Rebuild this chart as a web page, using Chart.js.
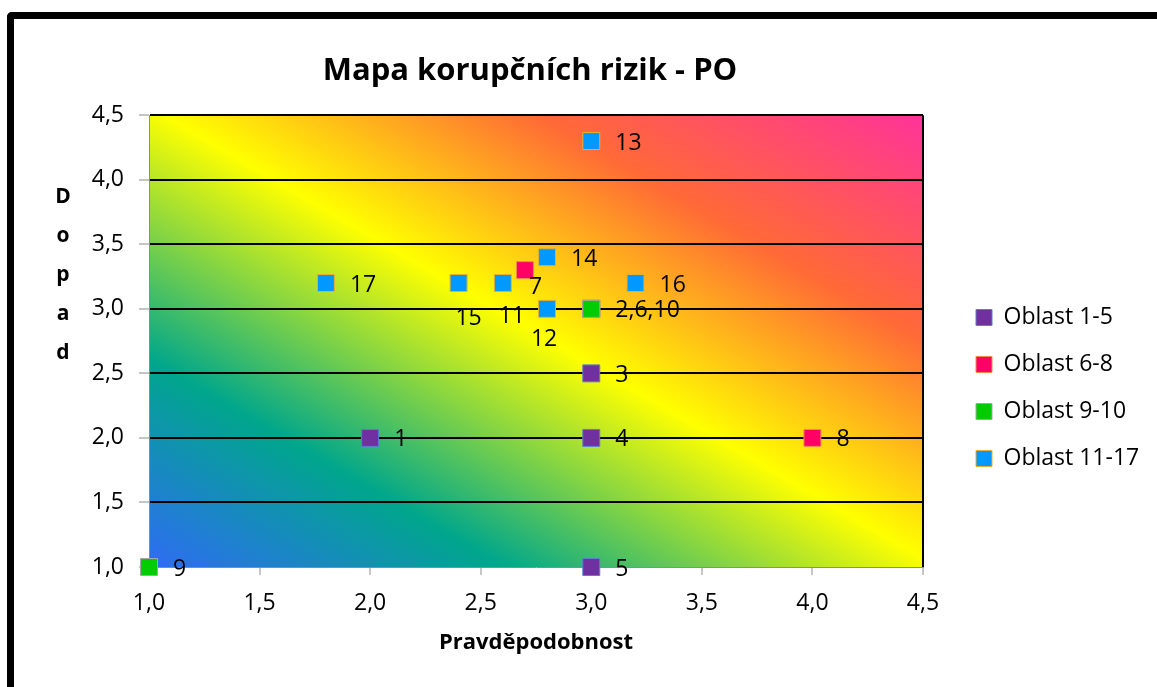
<!DOCTYPE html>
<html>
<head>
<meta charset="utf-8">
<script src="https://cdn.jsdelivr.net/npm/chart.js@4.4.1/dist/chart.umd.min.js"></script>
<style>
  html, body { margin: 0; padding: 0; background: #fff; overflow: hidden; }
  #frame { position: absolute; left: 7px; top: 12px; width: 1300px; height: 800px;
           border-top: 7px solid #000; border-left: 7px solid #000; border-top-left-radius: 5px; }
  #wrap { position: absolute; left: 0; top: 0; width: 1157px; height: 687px; }
</style>
</head>
<body>
<div id="frame"></div>
<div id="wrap"><canvas id="riskChart" width="1157" height="687"></canvas></div>
<script>
  const chartTitle = "Mapa korupčních rizik - PO";
  const xTitle = "Pravděpodobnost";
  const yTitle = "Dopad";
  const axisMin = 1.0;
  const axisMax = 4.5;
  const axisStep = 0.5;

  const seriesNames = ["Oblast 1-5", "Oblast 6-8", "Oblast 9-10", "Oblast 11-17"];

  // Oblast 1-5 (bod 2 lezi pod zelenym bodem 3,3)
  const oblast1X = [2.0, 3.0, 3.0, 3.0, 3.0];
  const oblast1Y = [2.0, 3.0, 2.5, 2.0, 1.0];
  const oblast1Labels = ["1", "", "3", "4", "5"];

  // Oblast 6-8 (bod 6 taky pod 3,3)
  const oblast2X = [3.0, 2.7, 4.0];
  const oblast2Y = [3.0, 3.3, 2.0];
  const oblast2Labels = ["", "7", "8"];

  // Oblast 9-10
  const oblast3X = [1.0, 3.0];
  const oblast3Y = [1.0, 3.0];
  const oblast3Labels = ["9", "2,6,10"];

  // Oblast 11-17
  const oblast4X = [2.6, 2.8, 3.0, 2.8, 2.4, 3.2, 1.8];
  const oblast4Y = [3.2, 3.0, 4.3, 3.4, 3.2, 3.2, 3.2];
  const oblast4Labels = ["11", "12", "13", "14", "15", "16", "17"];

  // label placement next to each point: [dx, dy, align]
  const R = [24, 2, "left"];
  const labelPlacement = [
    [R, R, R, R, R],
    [R, [4, 17, "left"], R],
    [R, R],
    [[9, 33, "center"], [-3, 31, "center"], R, R, [10, 35, "center"], R, R]
  ];

  const fill = ["#7030A0", "#FF0066", "#00CC00", "#0099FF"];
  const edge = ["#5B7FD0", "#F58A50", "#A6A6A6", "#E8B030"];
  const FONT = "'Open Sans', 'Liberation Sans', sans-serif";

  const xs = [oblast1X, oblast2X, oblast3X, oblast4X];
  const ys = [oblast1Y, oblast2Y, oblast3Y, oblast4Y];
  const pointLabels = [oblast1Labels, oblast2Labels, oblast3Labels, oblast4Labels];

  const fmt = v => Number(v).toFixed(1).replace(".", ",");

  const datasets = seriesNames.map((name, i) => ({
    label: name,
    data: xs[i].map((x, j) => ({ x: x, y: ys[i][j] })),
    backgroundColor: fill[i],
    borderColor: edge[i],
    borderWidth: 1,
    pointStyle: "rect",
    pointRadius: 12,
    pointHoverRadius: 12,
    clip: false,
    order: 4 - i
  }));

  // background gradient of the plot area
  const gradientBg = {
    id: "gradientBg",
    beforeDraw(chart) {
      const a = chart.chartArea;
      const ctx = chart.ctx;
      const w = a.right - a.left, h = a.bottom - a.top;
      const gx = 1 / (2 * w), gy = -1 / (2 * h);
      const g2 = gx * gx + gy * gy;
      const g = ctx.createLinearGradient(a.left, a.bottom, a.left + gx / g2, a.bottom + gy / g2);
      g.addColorStop(0, "#2F6CF4");
      g.addColorStop(0.23, "#00A68C");
      g.addColorStop(0.51, "#FFFF00");
      g.addColorStop(0.75, "#FF6A36");
      g.addColorStop(1, "#FF3399");
      ctx.save();
      ctx.fillStyle = g;
      ctx.fillRect(a.left, a.top, w, h);
      ctx.restore();
    }
  };

  // point labels + vertical y title + legend placement
  const textBits = {
    id: "textBits",
    afterDatasetsDraw(chart) {
      const ctx = chart.ctx;
      ctx.save();
      ctx.fillStyle = "#000";
      ctx.font = "23px " + FONT;
      ctx.textBaseline = "middle";
      pointLabels.forEach((labels, i) => {
        const meta = chart.getDatasetMeta(i);
        labels.forEach((txt, j) => {
          if (!txt) return;
          const p = meta.data[j];
          const [dx, dy, align] = labelPlacement[i][j];
          ctx.textAlign = align;
          ctx.fillText(txt, p.x + dx, p.y + dy);
        });
      });
      ctx.font = "bold 21px " + FONT;
      ctx.textAlign = "center";
      yTitle.split("").forEach((ch, k) => {
        ctx.fillText(ch, 63, 197 + k * 39);
      });
      ctx.restore();
    },
    afterInit(chart) {
      const lg = chart.legend;
      if (!lg) return;
      const origFit = lg.fit;
      lg.fit = function () {
        origFit.call(this);
        this.width = 137;
      };
    },
    afterLayout(chart) {
      const lg = chart.legend;
      if (!lg) return;
      lg.left = 952;
      lg.right = 1157;
      lg.top = 282;
    }
  };

  const ctx = document.getElementById("riskChart").getContext("2d");
  const chart = new Chart(ctx, {
    type: "scatter",
    data: { datasets },
    plugins: [gradientBg, textBits],
    options: {
      responsive: false,
      animation: false,
      devicePixelRatio: 1,
      layout: { padding: { left: 0, right: 97, top: 0, bottom: 0 } },
      plugins: {
        title: {
          display: true,
          text: chartTitle,
          color: "#000",
          font: { family: FONT, size: 31, weight: "bold" },
          padding: { top: 53, bottom: 25 }
        },
        legend: {
          position: "right",
          align: "start",
          labels: {
            color: "#000",
            font: { family: FONT, size: 23 },
            boxWidth: 16,
            boxHeight: 16,
            padding: 24,
            sort: (a, b) => a.datasetIndex - b.datasetIndex
          }
        },
        tooltip: { enabled: false }
      },
      scales: {
        x: {
          type: "linear",
          min: axisMin,
          max: axisMax,
          afterFit(scale) { scale.height = 687 - 567; },
          ticks: {
            stepSize: axisStep,
            color: "#000",
            font: { family: FONT, size: 23 },
            padding: 15,
            callback: v => fmt(v)
          },
          grid: {
            color: c => (c.tick && c.tick.value === axisMax ? "#000" : "rgba(0,0,0,0)"),
            lineWidth: 2,
            tickColor: "#8C8C8C",
            tickLength: 8,
            tickWidth: 1
          },
          border: { color: "#8C8C8C", width: 1 },
          title: {
            display: true,
            text: xTitle,
            color: "#000",
            font: { family: FONT, size: 22, weight: "bold" },
            padding: { top: 0, bottom: 31 }
          }
        },
        y: {
          type: "linear",
          min: axisMin,
          max: axisMax,
          afterFit(scale) { scale.width = 149; },
          ticks: {
            stepSize: axisStep,
            color: "#000",
            font: { family: FONT, size: 23 },
            padding: 15,
            callback: v => fmt(v)
          },
          grid: {
            color: c => (c.tick && c.tick.value === axisMin ? "rgba(0,0,0,0)" : "#000"),
            lineWidth: 2,
            tickColor: "#8C8C8C",
            tickLength: 10,
            tickWidth: 1
          },
          border: { color: "#8C8C8C", width: 1 }
        }
      }
    }
  });
</script>
</body>
</html>
